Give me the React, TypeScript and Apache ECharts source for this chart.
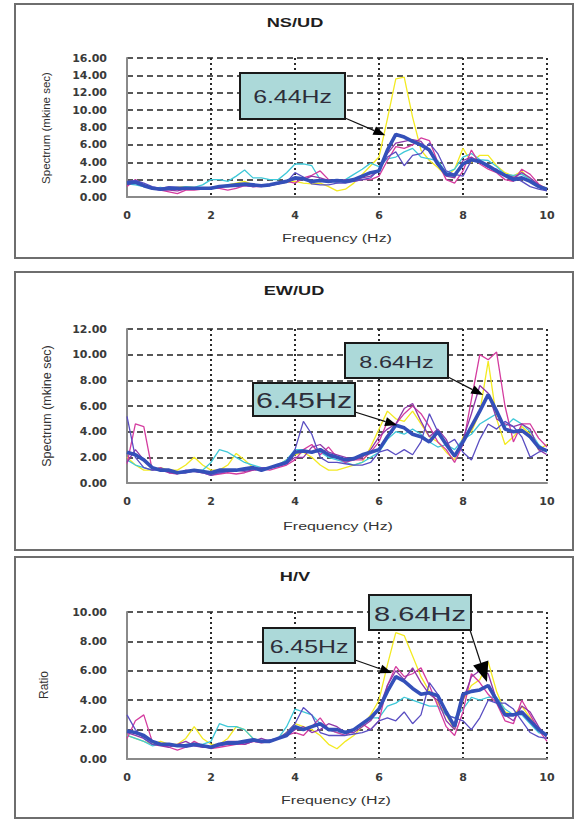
import React, { useEffect, useRef } from "react";
import * as echarts from "echarts";

// Frequency sampling (Hz)
const FREQ = [
  0.0, 0.2, 0.4, 0.6, 0.8, 1.0, 1.2, 1.4, 1.6, 1.8,
  2.0, 2.2, 2.4, 2.6, 2.8, 3.0, 3.2, 3.4, 3.6, 3.8,
  4.0, 4.2, 4.4, 4.6, 4.8, 5.0, 5.2, 5.4, 5.6, 5.8,
  6.0, 6.2, 6.4, 6.6, 6.8, 7.0, 7.2, 7.4, 7.6, 7.8,
  8.0, 8.2, 8.4, 8.6, 8.8, 9.0, 9.2, 9.4, 9.6, 9.8,
  10.0,
];

const PANEL_TITLES = ["NS/UD", "EW/UD", "H/V"];
const Y_NAMES = ["Spectrum (mkine sec)", "Spectrum (mkine sec)", "Ratio"];
const X_NAME = "Frequency (Hz)";
const Y_MAX = [16, 12, 10];
const SERIES_NAMES = ["Yellow", "Cyan", "Magenta", "Purple", "Violet", "Average"];

// ---------- NS/UD ----------
const NS_YELLOW = [
  1.4, 1.6, 1.3, 1.1, 1.0, 1.0, 1.1, 1.2, 1.1, 1.0,
  1.0, 1.2, 1.4, 1.6, 1.8, 1.4, 1.3, 1.4, 1.6, 1.7,
  1.8, 1.6, 1.5, 1.6, 1.2, 0.7, 0.9, 1.6, 2.6, 3.6,
  4.6, 9.0, 13.6, 13.8, 9.2, 5.4, 4.2, 3.4, 2.4, 3.2,
  5.6, 4.0, 4.8, 4.8, 3.6, 2.8, 2.4, 3.0, 2.0, 1.4,
  1.0,
];
const NS_CYAN = [
  1.5, 1.4, 1.2, 1.0, 1.1, 0.9, 1.0, 1.2, 1.1, 1.4,
  2.0, 2.0, 1.8, 2.4, 3.1, 2.2, 2.2, 2.0, 2.0, 2.8,
  3.8, 3.8, 3.6, 2.0, 2.0, 1.6, 2.0, 2.6, 3.2, 3.9,
  3.5, 4.4, 4.6, 5.2, 5.6, 4.6, 4.4, 4.2, 2.8, 3.2,
  4.6, 5.0, 4.3, 4.2, 3.5, 2.6, 2.5, 2.6, 2.0, 1.4,
  0.9,
];
const NS_MAGENTA = [
  1.2, 2.0, 1.4, 1.0, 0.8, 0.6, 0.4, 0.8, 0.8, 0.9,
  1.0, 1.0, 0.8, 1.0, 1.3, 1.2, 1.2, 1.4, 1.6, 1.8,
  1.6, 2.2, 2.5, 3.0, 2.0, 1.7, 2.0, 1.8, 2.0, 2.0,
  2.4, 4.2, 5.8, 5.6, 6.0, 6.8, 6.5, 4.0, 2.0, 1.6,
  3.0, 5.4, 3.8, 3.2, 2.8, 2.0, 1.8, 3.2, 2.6, 1.5,
  0.9,
];
const NS_PURPLE = [
  1.4, 1.8, 1.4, 1.0, 0.8, 0.8, 0.7, 0.9, 1.0, 1.0,
  1.1, 1.2, 1.2, 1.3, 1.4, 1.2, 1.3, 1.4, 1.5, 1.8,
  2.0, 2.0, 2.4, 2.2, 1.9, 1.8, 1.9, 2.0, 2.2, 2.4,
  3.0, 5.0, 6.2, 6.4, 6.6, 6.4, 5.2, 3.8, 2.4, 2.2,
  4.2, 4.6, 4.0, 3.4, 3.2, 2.4, 2.2, 2.8, 2.2, 1.4,
  0.8,
];
const NS_VIOLET = [
  1.8, 1.9, 1.6, 1.2, 1.0, 1.2, 1.1, 1.0, 1.0, 1.0,
  1.0, 1.2, 1.2, 1.2, 1.3, 1.2, 1.3, 1.3, 1.5, 1.7,
  2.8, 2.3, 1.5, 1.4, 1.4, 1.6, 1.6, 1.8, 2.0, 2.2,
  3.2, 4.6, 5.2, 3.6, 4.8, 5.0, 6.2, 5.0, 3.0, 2.6,
  2.4, 4.2, 4.0, 3.4, 3.0, 2.6, 2.3, 1.8, 1.2, 0.9,
  0.7,
];
const NS_AVG = [
  1.6, 1.7, 1.3, 1.0, 0.9, 1.0, 1.0, 1.0, 1.0, 1.0,
  1.0, 1.2, 1.3, 1.4, 1.5, 1.4, 1.3, 1.4, 1.6, 1.8,
  2.2, 2.1, 1.8, 1.9, 1.8, 1.9, 1.8, 2.0, 2.4, 2.8,
  3.0, 5.4, 7.2, 6.9, 6.4, 6.0, 5.4, 3.8, 2.6, 2.5,
  3.8, 4.3, 4.1, 3.6, 3.0, 2.5, 2.0, 2.2, 1.8, 1.2,
  0.9,
];

// ---------- EW/UD ----------
const EW_YELLOW = [
  2.0, 1.4, 1.0, 1.0, 1.2, 1.0, 1.0, 1.4, 2.0, 1.4,
  1.0, 1.0, 1.4, 2.3, 1.8, 1.2, 1.0, 1.2, 1.4, 1.8,
  2.2, 2.4, 2.0, 1.4, 1.0, 1.0, 1.2, 1.4, 1.6, 2.8,
  4.2, 5.6, 5.0, 4.8, 5.6, 4.6, 3.6, 3.2, 2.4, 1.8,
  3.6, 4.0, 5.5, 9.5, 5.0, 3.0, 3.6, 4.4, 3.8, 2.6,
  3.0,
];
const EW_CYAN = [
  1.8, 1.4, 1.2, 1.0, 1.2, 0.9, 0.8, 0.9, 1.0, 1.0,
  1.6, 2.6, 2.4, 2.0, 1.6, 1.4, 1.2, 1.2, 1.4, 1.8,
  2.6, 2.6, 2.4, 2.4, 2.0, 1.8, 1.6, 1.4, 1.6, 2.0,
  2.4, 3.4, 4.0, 3.8, 4.2, 3.8, 3.2, 2.8, 3.0, 2.6,
  3.4, 3.8, 4.6, 5.0, 5.4, 4.4, 5.0, 4.6, 4.0, 3.0,
  2.4,
];
const EW_MAGENTA = [
  1.5, 4.6, 4.4, 1.0, 1.2, 0.8, 0.7, 1.0, 0.9, 0.8,
  0.6, 0.7, 0.8, 0.7, 0.8, 1.0, 1.1, 1.0, 1.2, 1.4,
  1.8, 2.6, 3.0, 2.2, 2.8, 2.0, 1.6, 1.8, 1.8, 2.4,
  3.2, 4.8, 4.6, 5.4, 6.0, 5.4, 4.4, 3.2, 2.6, 1.6,
  3.0, 6.5, 10.0, 9.6, 10.2, 6.0, 3.2, 4.6, 4.6, 3.5,
  2.8,
];
const EW_PURPLE = [
  1.6, 2.6, 1.8, 1.2, 1.0, 0.8, 0.8, 0.8, 1.0, 0.9,
  0.7, 0.8, 0.9, 1.0, 0.9, 1.0, 1.1, 1.2, 1.3, 1.5,
  2.0, 2.0, 2.8, 3.0, 2.4, 2.2, 2.0, 1.8, 2.0, 2.6,
  3.6, 4.2, 4.6, 5.8, 6.2, 4.8, 3.6, 4.2, 3.4, 2.0,
  3.4, 5.4, 7.6, 7.0, 5.0, 4.6, 4.4, 4.6, 4.2, 2.6,
  2.2,
];
const EW_VIOLET = [
  5.2, 2.0, 1.2, 1.0, 1.0, 0.9, 0.8, 0.8, 0.9, 0.8,
  0.6, 0.8, 0.9, 1.0, 1.0, 1.1, 1.2, 1.2, 1.4, 1.6,
  2.6, 4.8, 3.8, 2.0, 1.6, 1.6, 1.5, 1.4, 1.4, 1.6,
  2.4, 2.6, 2.2, 2.6, 2.2, 3.2, 5.4, 4.0, 3.0, 3.4,
  2.4, 1.8, 3.4, 4.6, 4.2, 4.8, 4.4, 3.6, 2.0, 2.4,
  2.6,
];
const EW_AVG = [
  2.4, 2.2, 1.8, 1.2, 1.0, 1.0, 0.8, 0.9, 1.0, 0.9,
  0.8, 1.0, 1.0, 1.0, 1.1, 1.2, 1.0, 1.2, 1.4, 1.6,
  2.4, 2.5, 2.4, 2.6, 2.2, 2.0, 1.8, 1.9, 2.2, 2.4,
  2.6, 3.6, 4.5, 4.3, 3.8, 3.6, 3.2, 4.0, 3.0, 2.1,
  3.2, 4.4, 5.6, 6.9, 5.6, 4.2, 4.0, 4.1, 3.6, 2.8,
  2.5,
];

// ---------- H/V ----------
const HV_YELLOW = [
  1.6, 1.4, 1.2, 1.0, 1.2, 1.0, 1.0, 1.4, 2.2, 1.4,
  1.0, 1.0, 1.4, 2.2, 2.0, 1.4, 1.2, 1.2, 1.4, 1.8,
  2.4, 2.2, 2.0, 1.6, 1.0, 0.7, 1.2, 1.6, 2.2, 3.0,
  4.0, 6.4, 8.6, 8.4, 7.0, 5.6, 4.6, 3.8, 3.0, 2.0,
  4.0, 5.0, 5.4, 6.6, 4.6, 3.2, 3.0, 3.6, 2.8, 2.0,
  1.6,
];
const HV_CYAN = [
  1.6, 1.4, 1.2, 0.9, 1.0, 0.9, 0.9, 1.0, 1.0, 1.0,
  1.2, 2.4, 2.2, 2.2, 2.0, 1.4, 1.2, 1.2, 1.4, 2.2,
  3.4, 3.2, 3.0, 2.4, 2.0, 1.8, 1.8, 2.0, 2.4, 2.8,
  2.8, 3.6, 3.8, 4.2, 4.0, 3.8, 3.6, 3.6, 3.0, 2.8,
  3.4, 4.2, 4.0, 4.2, 4.2, 3.4, 3.0, 3.0, 2.4, 1.8,
  1.6,
];
const HV_MAGENTA = [
  1.4, 2.6, 3.0, 1.2, 1.0, 0.8, 0.6, 0.8, 1.2, 0.9,
  0.7, 0.8, 0.9, 1.0, 1.0, 1.2, 1.1, 1.2, 1.4, 1.6,
  1.8, 1.6, 2.2, 2.8, 2.0, 1.8, 1.6, 2.0, 2.4, 2.0,
  2.6, 5.0, 6.3, 5.6, 5.8, 6.2, 5.0, 3.6, 2.2, 1.6,
  3.2, 5.8, 5.2, 4.4, 3.8, 2.6, 2.4, 4.0, 3.0, 2.0,
  1.2,
];
const HV_PURPLE = [
  1.8, 1.6, 1.4, 1.0, 0.9, 0.8, 1.0, 1.2, 0.9, 0.8,
  0.8, 1.0, 1.2, 1.2, 1.0, 1.2, 1.4, 1.2, 1.4, 1.6,
  2.0, 2.2, 1.8, 2.0, 2.4, 2.2, 1.8, 1.8, 2.2, 2.6,
  3.4, 5.0, 6.0, 5.4, 6.2, 5.2, 4.4, 4.0, 2.6, 2.0,
  4.0, 5.6, 6.0, 5.8, 4.0, 3.0, 2.6, 3.6, 3.2, 2.2,
  1.4,
];
const HV_VIOLET = [
  3.0, 2.0, 1.4, 1.0, 1.0, 1.0, 0.9, 0.8, 0.9, 0.9,
  0.8, 0.9, 1.0, 1.0, 1.1, 1.2, 1.2, 1.3, 1.4, 1.8,
  2.4, 3.5, 3.0, 1.8, 1.6, 1.6, 1.6, 1.7, 1.8, 2.0,
  2.6, 2.8, 2.6, 3.2, 2.4, 3.0, 5.2, 4.4, 3.0, 2.8,
  2.6, 2.0, 2.8, 4.0, 3.8, 3.8, 3.4, 2.6, 1.8, 1.5,
  1.4,
];
const HV_AVG = [
  1.9, 1.8, 1.6, 1.2, 1.0, 1.0, 0.9, 0.9, 1.0, 0.9,
  0.8, 1.0, 1.1, 1.1, 1.2, 1.3, 1.2, 1.2, 1.4, 1.6,
  2.2, 2.0, 2.2, 2.4, 2.0, 2.0, 1.8, 2.0, 2.4, 2.8,
  3.4, 4.6, 5.6, 5.3, 4.8, 4.4, 4.5, 4.3, 3.2, 2.2,
  4.4, 4.6, 4.7, 5.0, 4.0, 3.0, 3.0, 3.2, 2.6, 2.0,
  1.6,
];

const PANEL_DATA = [
  [NS_YELLOW, NS_CYAN, NS_MAGENTA, NS_PURPLE, NS_VIOLET, NS_AVG],
  [EW_YELLOW, EW_CYAN, EW_MAGENTA, EW_PURPLE, EW_VIOLET, EW_AVG],
  [HV_YELLOW, HV_CYAN, HV_MAGENTA, HV_PURPLE, HV_VIOLET, HV_AVG],
];

// Annotations: label text and the data point the arrow points at [Hz, value]
const ANNOT_LABELS = ["6.44Hz", "8.64Hz", "6.45Hz", "8.64Hz", "6.45Hz"];
const ANNOT_PANEL = [0, 1, 1, 2, 2];
const ANNOT_TIPS = [
  [6.15, 7.1],
  [8.48, 6.85],
  [6.43, 4.5],
  [8.57, 5.24],
  [6.31, 5.85],
];

// ---------- layout / styles ----------
const COLORS = ["#f3ea22", "#3fc8d8", "#d43c9f", "#9038a8", "#5a4ec2", "#3450b9"];
const WIDTHS = [1.3, 1.3, 1.3, 1.3, 1.3, 3.6];
const GRIDS = [
  { left: 127, top: 58, width: 420, height: 139 },
  { left: 127, top: 329, width: 420, height: 154 },
  { left: 127, top: 612, width: 420, height: 147 },
];
const PANELS = [
  { x: 15, y: 4, w: 558, h: 254 },
  { x: 15, y: 272, w: 558, h: 278 },
  { x: 15, y: 557, w: 558, h: 261 },
];
const TITLE_POS = [[295, 22], [294, 290], [295, 576]];
const XNAME_POS = [[337, 238], [338, 526], [336, 800]];
const YNAME_POS = [[46, 128], [47, 406], [44, 685]];
const YNAME_SIZE = [11.5, 12.5, 12];
const ANNOT_LAYOUT = [
  { box: [240, 73, 105, 46], font: 18, from: [345, 118], head: [12, 9] },
  { box: [345, 343, 103, 35], font: 17, from: [448, 377], head: [12, 9] },
  { box: [253, 383, 102, 33], font: 22, from: [355, 412], head: [12, 9] },
  { box: [369, 595, 102, 35], font: 21, from: [470, 630], head: [20, 16] },
  { box: [263, 628, 92, 35], font: 18, from: [355, 660], head: [12, 9] },
];
const SANS = "'Liberation Sans', Arial, sans-serif";

export default function App() {
  const ref = useRef<HTMLDivElement>(null);

  useEffect(() => {
    if (!ref.current) return;
    const chart = echarts.init(ref.current, null, { renderer: "svg" });

    const series: any[] = [];
    PANEL_DATA.forEach((arrs, p) => {
      arrs.forEach((vals, k) => {
        series.push({
          name: SERIES_NAMES[k],
          type: "line",
          xAxisIndex: p,
          yAxisIndex: p,
          data: FREQ.map((f, i) => [f, vals[i]]),
          showSymbol: false,
          symbol: "none",
          smooth: false,
          lineStyle: { color: COLORS[k], width: WIDTHS[k] },
          itemStyle: { color: COLORS[k] },
          z: k === 5 ? 5 : 3,
          silent: true,
        });
      });
    });

    const axisLabelStyle = {
      fontFamily: "'DejaVu Sans', sans-serif",
      fontWeight: "bold" as const,
      fontSize: 11,
      color: "#3a3a3a",
    };

    const option: any = {
      animation: false,
      backgroundColor: "#ffffff",
      grid: GRIDS.map((g) => ({ ...g, containLabel: false })),
      xAxis: GRIDS.map((_, i) => ({
        type: "value",
        gridIndex: i,
        min: 0,
        max: 10,
        interval: 2,
        axisLine: { show: true, onZero: false, lineStyle: { color: "#8a8a8a", width: 2 } },
        axisTick: { show: false },
        axisLabel: { ...axisLabelStyle, margin: 13, formatter: (v: number) => String(v) },
        splitLine: {
          show: true,
          showMinLine: false,
          lineStyle: { color: "#2a2a2a", width: 2, type: [2, 3] },
        },
      })),
      yAxis: GRIDS.map((_, i) => ({
        type: "value",
        gridIndex: i,
        min: 0,
        max: Y_MAX[i],
        interval: 2,
        axisLine: { show: true, lineStyle: { color: "#8a8a8a", width: 2 } },
        axisTick: { show: false },
        axisLabel: { ...axisLabelStyle, margin: 20, formatter: (v: number) => v.toFixed(2) },
        splitLine: {
          show: true,
          showMinLine: false,
          lineStyle: { color: "#222222", width: 1.6, type: [6, 4] },
        },
      })),
      series,
    };
    chart.setOption(option);

    const graphics: any[] = [];
    PANELS.forEach((p, i) => {
      graphics.push({
        type: "rect",
        shape: { x: p.x, y: p.y, width: p.w, height: p.h },
        style: { fill: "none", stroke: "#6e6e6e", lineWidth: 2 },
        silent: true,
        z: 1,
      });
      graphics.push({
        type: "text",
        x: TITLE_POS[i][0],
        y: TITLE_POS[i][1],
        scaleX: 1.4,
        style: {
          text: PANEL_TITLES[i],
          font: `bold 13px ${SANS}`,
          fill: "#1e1e1e",
          align: "center",
          verticalAlign: "middle",
          textAlign: "center",
          textVerticalAlign: "middle",
        },
        z: 10,
      });
      graphics.push({
        type: "text",
        x: XNAME_POS[i][0],
        y: XNAME_POS[i][1],
        scaleX: 1.45,
        style: {
          text: X_NAME,
          font: `11px ${SANS}`,
          fill: "#333333",
          align: "center",
          verticalAlign: "middle",
          textAlign: "center",
          textVerticalAlign: "middle",
        },
        z: 10,
      });
      graphics.push({
        type: "text",
        x: YNAME_POS[i][0],
        y: YNAME_POS[i][1],
        rotation: Math.PI / 2,
        style: {
          text: Y_NAMES[i],
          font: `${YNAME_SIZE[i]}px ${SANS}`,
          fill: "#333333",
          align: "center",
          verticalAlign: "middle",
          textAlign: "center",
          textVerticalAlign: "middle",
        },
        z: 10,
      });
    });

    ANNOT_LABELS.forEach((label, i) => {
      const L = ANNOT_LAYOUT[i];
      const [bx, by, bw, bh] = L.box;
      const tip = chart.convertToPixel({ gridIndex: ANNOT_PANEL[i] } as any, ANNOT_TIPS[i]) as number[];
      const [fx, fy] = L.from;
      const dx = tip[0] - fx;
      const dy = tip[1] - fy;
      const len = Math.sqrt(dx * dx + dy * dy) || 1;
      const ux = dx / len;
      const uy = dy / len;
      const [hl, hw] = L.head;
      const baseX = tip[0] - ux * hl;
      const baseY = tip[1] - uy * hl;
      const px = -uy * (hw / 2);
      const py = ux * (hw / 2);
      graphics.push({
        type: "line",
        shape: { x1: fx, y1: fy, x2: baseX, y2: baseY },
        style: { stroke: "#111111", lineWidth: 1.2 },
        z: 20,
      });
      graphics.push({
        type: "polygon",
        shape: {
          points: [
            [tip[0], tip[1]],
            [baseX + px, baseY + py],
            [baseX - px, baseY - py],
          ],
        },
        style: { fill: "#000000" },
        z: 20,
      });
      graphics.push({
        type: "rect",
        shape: { x: bx, y: by, width: bw, height: bh },
        style: { fill: "#acd9d9", stroke: "#1a1a1a", lineWidth: 2 },
        z: 21,
      });
      graphics.push({
        type: "text",
        x: bx + bw / 2,
        y: by + bh / 2 + 1,
        scaleX: 1.38,
        style: {
          text: label,
          font: `${L.font}px ${SANS}`,
          fill: "#2e2e3a",
          align: "center",
          verticalAlign: "middle",
          textAlign: "center",
          textVerticalAlign: "middle",
        },
        z: 22,
      });
    });

    chart.setOption({ graphic: graphics });

    return () => chart.dispose();
  }, []);

  return (
    <div
      ref={ref}
      style={{ position: "absolute", left: 0, top: 0, width: 574, height: 822, background: "#ffffff" }}
    />
  );
}
